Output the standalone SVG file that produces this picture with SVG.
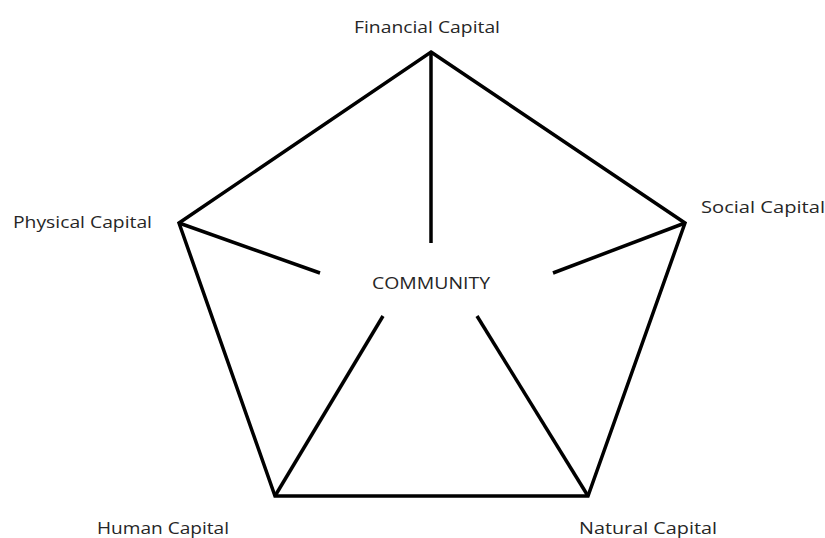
<svg xmlns="http://www.w3.org/2000/svg" width="825" height="538" viewBox="0 0 825 538">
<style>
.edge{stroke:#000;stroke-width:3.5;fill:none;stroke-linecap:butt;stroke-linejoin:miter}
.lbl{font-family:"Open Sans","Liberation Sans",Arial,sans-serif;font-size:17px;fill:#262626}
</style>
<rect width="825" height="538" fill="#fff"/>
<g id="connectors">
<polygon class="edge" points="431,52 685,223 588,496 275,496 179,223"/>
<line class="edge" x1="431" y1="52" x2="431" y2="243"/>
<line class="edge" x1="685" y1="223" x2="553" y2="273"/>
<line class="edge" x1="588" y1="496" x2="477" y2="316"/>
<line class="edge" x1="275" y1="496" x2="383" y2="316"/>
<line class="edge" x1="179" y1="223" x2="320" y2="273"/>
</g>
<g id="node-community"><text class="lbl" x="372" y="289" textLength="118" lengthAdjust="spacingAndGlyphs">COMMUNITY</text></g>
<g id="node-financial"><text class="lbl" x="354" y="33" textLength="146" lengthAdjust="spacingAndGlyphs">Financial Capital</text></g>
<g id="node-social"><text class="lbl" x="701" y="213" textLength="124" lengthAdjust="spacingAndGlyphs">Social Capital</text></g>
<g id="node-physical"><text class="lbl" x="13" y="228" textLength="139" lengthAdjust="spacingAndGlyphs">Physical Capital</text></g>
<g id="node-human"><text class="lbl" x="97" y="534" textLength="132" lengthAdjust="spacingAndGlyphs">Human Capital</text></g>
<g id="node-natural"><text class="lbl" x="579" y="534" textLength="138" lengthAdjust="spacingAndGlyphs">Natural Capital</text></g>
</svg>
